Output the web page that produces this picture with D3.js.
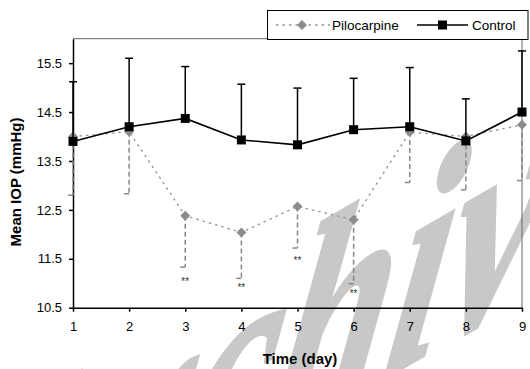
<!DOCTYPE html>
<html>
<head>
<meta charset="utf-8">
<script src="https://cdn.jsdelivr.net/npm/d3@7"></script>
<style>
  body { margin: 0; background: #fff; }
  svg { display: block; font-family: "Liberation Sans", Arial, sans-serif; }
</style>
</head>
<body>
<svg id="chart" width="530" height="369"></svg>
<script>
const days = [1, 2, 3, 4, 5, 6, 7, 8, 9];
const controlMean = [13.9, 14.2, 14.37, 13.93, 13.83, 14.14, 14.2, 13.91, 14.5];
const controlErr = [1.22, 1.4, 1.06, 1.14, 1.16, 1.05, 1.21, 0.86, 1.25];
const piloMean = [14.0, 14.1, 12.38, 12.04, 12.57, 12.3, 14.09, 14.0, 14.24];
const piloErr = [1.2, 1.27, 1.05, 0.94, 0.85, 1.31, 1.03, 1.09, 1.14];
const starDays = [3, 4, 5, 6];
const starLevel = [11.07, 10.95, 11.49, 10.82];
const yTicks = [10.5, 11.5, 12.5, 13.5, 14.5, 15.5];

const svg = d3.select("#chart");
const margin = { top: 38.7, right: 8, bottom: 61.3, left: 73 };
const width = 530, height = 369;
const innerW = width - margin.left - margin.right;
const innerH = height - margin.top - margin.bottom;

const x = d3.scaleLinear().domain([1, 9]).range([margin.left, margin.left + innerW]);
const y = d3.scaleLinear().domain([10.5, 16]).range([margin.top + innerH, margin.top]);

// watermark, sits behind the chart
svg.append("text")
  .attr("transform", "translate(-48,628) rotate(-30) skewX(-40)")
  .attr("font-family", "Liberation Serif, serif")
  .attr("font-style", "italic")
  .attr("font-weight", "bold")
  .attr("font-size", 240)
  .attr("fill", "#c8c8c8")
  .attr("stroke", "#c8c8c8")
  .attr("stroke-width", 3)
  .text("Archive");

// frame (top and right)
svg.append("path")
  .attr("d", `M${x(1)},${y(16)}H${x(9)}V${y(10.5)}`)
  .attr("fill", "none")
  .attr("stroke", "#666")
  .attr("stroke-width", 1);

const yAxis = svg.append("g")
  .attr("transform", `translate(${x(1)},0)`)
  .call(d3.axisLeft(y).tickValues(yTicks).tickSize(4).tickSizeOuter(0).tickPadding(7).tickFormat(d3.format(".1f")));

const xAxis = svg.append("g")
  .attr("transform", `translate(0,${y(10.5)})`)
  .call(d3.axisBottom(x).tickValues(days).tickSize(4).tickSizeOuter(0).tickPadding(10).tickFormat(d3.format("d")));

[yAxis, xAxis].forEach((a) => {
  a.selectAll("path, line").attr("stroke", "#000").attr("stroke-width", 1.5);
  a.selectAll("text").attr("font-size", 13).attr("fill", "#000").attr("font-family", "Liberation Sans, Arial, sans-serif");
});

const pilo = days.map((d, i) => ({ d, m: piloMean[i], e: piloErr[i] }));
const ctrl = days.map((d, i) => ({ d, m: controlMean[i], e: controlErr[i] }));

// pilocarpine
svg.append("path")
  .datum(pilo)
  .attr("d", d3.line().x((p) => x(p.d)).y((p) => y(p.m)))
  .attr("fill", "none")
  .attr("stroke", "#999")
  .attr("stroke-width", 1.4)
  .attr("stroke-dasharray", "2.5,4");

const pErr = svg.append("g").attr("stroke", "#888").attr("stroke-width", 1.5);
pErr.selectAll("line.bar").data(pilo).join("line")
  .attr("class", "bar")
  .attr("x1", (p) => x(p.d)).attr("x2", (p) => x(p.d))
  .attr("y1", (p) => y(p.m)).attr("y2", (p) => y(p.m - p.e))
  .attr("stroke-dasharray", "5,3");
pErr.selectAll("line.cap").data(pilo).join("line")
  .attr("class", "cap")
  .attr("x1", (p) => x(p.d) - 5).attr("x2", (p) => x(p.d))
  .attr("y1", (p) => y(p.m - p.e)).attr("y2", (p) => y(p.m - p.e));

svg.append("g").selectAll("path").data(pilo).join("path")
  .attr("transform", (p) => `translate(${x(p.d)},${y(p.m)})`)
  .attr("d", "M0,-5L5,0L0,5L-5,0Z")
  .attr("fill", "#8c8c8c");

// control
const cErr = svg.append("g").attr("stroke", "#000").attr("stroke-width", 1.5);
cErr.selectAll("line.bar").data(ctrl).join("line")
  .attr("class", "bar")
  .attr("x1", (p) => x(p.d)).attr("x2", (p) => x(p.d))
  .attr("y1", (p) => y(p.m)).attr("y2", (p) => y(p.m + p.e));
cErr.selectAll("line.cap").data(ctrl).join("line")
  .attr("class", "cap")
  .attr("x1", (p) => x(p.d) - 4).attr("x2", (p) => x(p.d) + 4)
  .attr("y1", (p) => y(p.m + p.e)).attr("y2", (p) => y(p.m + p.e));

svg.append("path")
  .datum(ctrl)
  .attr("d", d3.line().x((p) => x(p.d)).y((p) => y(p.m)))
  .attr("fill", "none")
  .attr("stroke", "#000")
  .attr("stroke-width", 1.6);

svg.append("g").selectAll("rect").data(ctrl).join("rect")
  .attr("x", (p) => x(p.d) - 4.5)
  .attr("y", (p) => y(p.m) - 4.5)
  .attr("width", 9).attr("height", 9)
  .attr("fill", "#000");

// significance marks
svg.append("g").selectAll("text").data(starDays).join("text")
  .attr("x", (d) => x(d))
  .attr("y", (d, i) => y(starLevel[i]) + 5)
  .attr("text-anchor", "middle")
  .attr("font-size", 10)
  .attr("fill", "#333")
  .text("**");

// axis titles
svg.append("text")
  .attr("x", 300).attr("y", 364)
  .attr("text-anchor", "middle")
  .attr("font-size", 15).attr("font-weight", "bold")
  .text("Time (day)");

svg.append("text")
  .attr("transform", "translate(21,182) rotate(-90)")
  .attr("text-anchor", "middle")
  .attr("font-size", 15).attr("font-weight", "bold")
  .text("Mean IOP (mmHg)");

// legend
const lg = svg.append("g");
lg.append("rect")
  .attr("x", 267.5).attr("y", 10.5).attr("width", 260.5).attr("height", 29)
  .attr("fill", "#fff").attr("stroke", "#000").attr("stroke-width", 1);
lg.append("line")
  .attr("x1", 276).attr("x2", 330).attr("y1", 25).attr("y2", 25)
  .attr("stroke", "#999").attr("stroke-width", 1.4).attr("stroke-dasharray", "2.5,4");
lg.append("path")
  .attr("transform", "translate(302,25)")
  .attr("d", "M0,-5L5,0L0,5L-5,0Z")
  .attr("fill", "#8c8c8c");
lg.append("text").attr("x", 332).attr("y", 30).attr("font-size", 13.5).text("Pilocarpine");
lg.append("line")
  .attr("x1", 417).attr("x2", 468).attr("y1", 25).attr("y2", 25)
  .attr("stroke", "#000").attr("stroke-width", 1.6);
lg.append("rect")
  .attr("x", 442.5 - 4.5).attr("y", 25 - 4.5).attr("width", 9).attr("height", 9)
  .attr("fill", "#000");
lg.append("text").attr("x", 472).attr("y", 30).attr("font-size", 13.5).text("Control");
</script>
</body>
</html>
